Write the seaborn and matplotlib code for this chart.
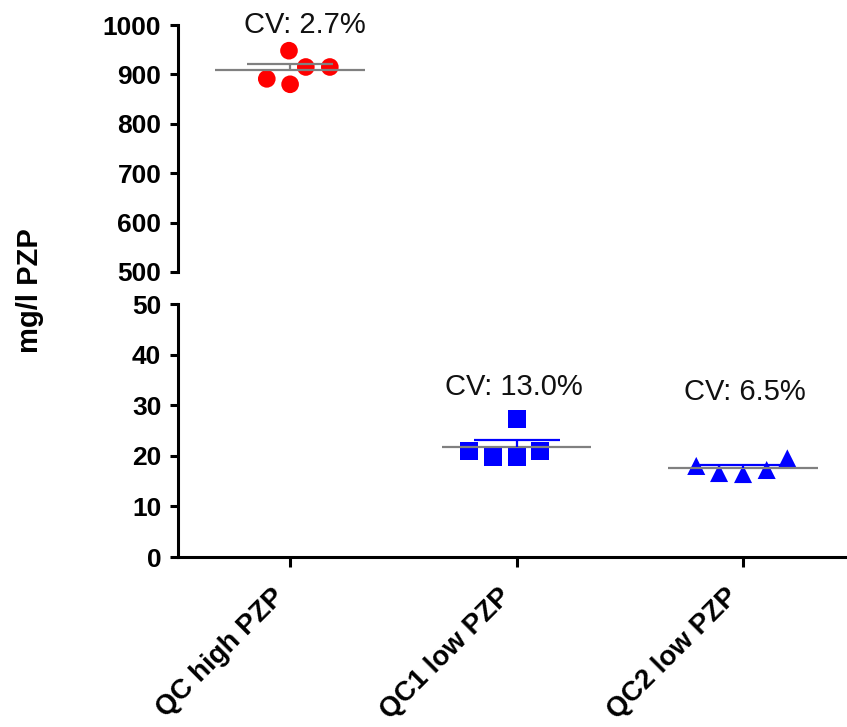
import numpy as np
import pandas as pd
import matplotlib
matplotlib.use("Agg")
import matplotlib.pyplot as plt
import seaborn as sns

# ---- data ----
categories = ["QC high PZP", "QC1 low PZP", "QC2 low PZP"]
qc_high = [915, 948, 880, 891, 915]
qc1_low = [20.9, 27.2, 19.8, 19.8, 20.9]
qc2_low = [19.5, 17.2, 16.4, 16.6, 18.0]
cv_labels = ["CV: 2.7%", "CV: 13.0%", "CV: 6.5%"]
top_ticks = [500, 600, 700, 800, 900, 1000]
bottom_ticks = [0, 10, 20, 30, 40, 50]
y_label = "mg/l PZP"

# ---- style ----
sns.set_theme(style="ticks")
plt.rcParams["font.family"] = ["Liberation Sans", "DejaVu Sans"]
for key in ["text.color", "axes.labelcolor", "xtick.color", "ytick.color",
            "axes.edgecolor"]:
    plt.rcParams[key] = "black"

groups = [qc_high, qc1_low, qc2_low]
df = pd.DataFrame({
    "group": np.repeat(categories, [len(g) for g in groups]),
    "value": np.concatenate([np.asarray(g, float) for g in groups]),
})

fig = plt.figure(figsize=(8.47, 7.27), dpi=100)
left = 178 / 847
ax_top = fig.add_axes([left, 0.6259, 1 - left, 0.3397])
ax_bot = fig.add_axes([left, 0.2338, 1 - left, 0.3480])

marker_styles = ["o", "s", "^"]
colors = ["#FF0000", "#0000FF", "#0000FF"]
err_colors = ["#808080", "#0000FF", "#0000FF"]
axes_for = [ax_top, ax_bot, ax_bot]
msize = [12.7, 13.0, 13.0]
swarm_diam = 16.46  # points: marker + invisible edge used for swarm spacing

for i, cat in enumerate(categories):
    ax = axes_for[i]
    sub = df[df["group"] == cat]
    sns.swarmplot(data=sub, x="group", y="value", order=categories, ax=ax,
                  color=colors[i], marker=marker_styles[i], size=msize[i],
                  linewidth=swarm_diam - msize[i], edgecolor="none", zorder=3)
    vals = sub["value"].to_numpy()
    m = vals.mean()
    sem = vals.std(ddof=1) / np.sqrt(len(vals))
    ax.hlines(m, i - 0.33, i + 0.33, color="#808080", lw=1.6, zorder=5)
    ax.vlines(i, m, m + sem, color=err_colors[i], lw=1.6, zorder=5)
    ax.hlines(m + sem, i - 0.19, i + 0.19, color=err_colors[i], lw=1.6, zorder=5)

# CV annotations
cv_x = [0.064, -0.01, 0.01]
cv_y = [1000, 33.6, 32.6]
for i, lab in enumerate(cv_labels):
    axes_for[i].text(i + cv_x[i], cv_y[i], lab, ha="center", va="center",
                     fontsize=21, color="#111111", clip_on=False)

xlim = (-0.495, 2.459)
for ax in (ax_top, ax_bot):
    ax.set_xlim(*xlim)
    ax.set_xlabel("")
    ax.set_ylabel("")
    ax.spines["right"].set_visible(False)
    ax.spines["top"].set_visible(False)
    ax.spines["left"].set_linewidth(2.2)
    ax.spines["bottom"].set_linewidth(2.2)
    ax.tick_params(axis="y", length=6, width=2.2, pad=6, labelsize=19)
    ax.set_facecolor("white")

ax_top.set_ylim(500, 1000)
ax_top.set_yticks(top_ticks)
ax_top.set_yticklabels([str(t) for t in top_ticks], fontweight="bold", fontsize=19)
ax_top.spines["bottom"].set_visible(False)
ax_top.tick_params(axis="x", bottom=False, labelbottom=False)

ax_bot.set_ylim(0, 50)
ax_bot.set_yticks(bottom_ticks)
ax_bot.set_yticklabels([str(t) for t in bottom_ticks], fontweight="bold", fontsize=19)
ax_bot.set_xticks(range(len(categories)))
ax_bot.set_xticklabels(categories, rotation=45, ha="right", fontweight="bold",
                       fontsize=20)
ax_bot.tick_params(axis="x", length=7, width=2.2, pad=12)

fig.text(30 / 847, 1 - 291 / 727, y_label, rotation=90, ha="center", va="center",
         fontsize=21, fontweight="bold")

fig.savefig("out.png", dpi=100, facecolor="white")
